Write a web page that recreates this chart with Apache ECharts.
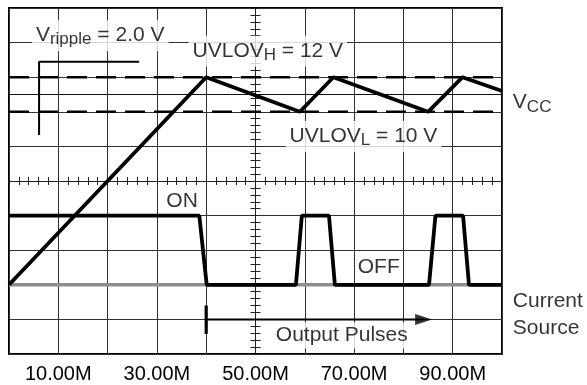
<!DOCTYPE html>
<html>
<head>
<meta charset="utf-8">
<script src="https://cdn.jsdelivr.net/npm/echarts@6/dist/echarts.min.js"></script>
<style>html,body{margin:0;padding:0;background:#fff;}#c{width:587px;height:385px;}</style>
</head>
<body>
<div id="c"></div>
<script>
// ---- data (time in M units, volts) ----
const xTickValues = [10, 30, 50, 70, 90];
const xTickLabels = ['10.00M', '30.00M', '50.00M', '70.00M', '90.00M'];

const vccTime  = [0, 40, 59, 65.8, 85, 92, 100];
const vccVolts = [0, 12, 10, 12, 10, 12, 11.2];

const pulseTime  = [0, 38.6, 40.1, 58.2, 59.4, 64.9, 66.1, 85.2, 86.5, 92.1, 93.3, 100];
const pulseVolts = [4, 4, 0, 0, 4, 4, 0, 0, 4, 4, 0, 0];

const currentSourceTime  = [0, 100];
const currentSourceVolts = [0, 0];

const uvloHighVolts = 12;
const uvloLowVolts = 10;
const vccMidVolts = 11;
const levelTime = [0, 100];

const rippleBracketTime  = [26.4, 6.1, 6.1];
const rippleBracketVolts = [12.9, 12.9, 8.66];

const arrowTime  = [40, 84.1];
const arrowVolts = [-2, -2];
const startMarkTime  = [40, 40];
const startMarkVolts = [-1.2, -2.85];

const annotationTexts = [
  '{m|V}{s|ripple}{m| = 2.0 V}',
  '{m|UVLOV}{s|H}{m| = 12 V}',
  '{m|UVLOV}{s|L}{m| = 10 V}',
  'ON',
  'OFF',
  'Output Pulses'
];
const annotationTime  = [18.5, 52.5, 71.9, 35.1, 75.0, 67.5];
const annotationVolts = [14.4, 13.5, 8.57, 4.84, 1.0, -2.93];
const annotationBoxed = [true, true, true, false, false, true];

const sideTexts = ['{m|V}{s|CC}', 'Current\nSource'];
const sideTime  = [102.2, 102.2];
const sideVolts = [10.54, -1.72];

// ---- chart ----
const FONT = "'Liberation Sans', Arial, Helvetica, sans-serif";
const zip = (xs, ys) => xs.map((x, i) => [x, ys[i]]);
const rich = {
  m: { fontSize: 21, fontFamily: FONT, color: '#000' },
  s: { fontSize: 17, fontFamily: FONT, color: '#000', padding: [9, 0, 0, 0] }
};

const chart = echarts.init(document.getElementById('c'), null, { renderer: 'canvas' });

function lineSeries(data, color, width, type, z) {
  return {
    type: 'line', xAxisIndex: 0, yAxisIndex: 0, data: data,
    symbol: 'none', showSymbol: false, silent: true, z: z || 2,
    lineStyle: { color: color, width: width, type: type || 'solid', cap: 'butt' }
  };
}

const tickAxisCommon = {
  type: 'value', gridIndex: 1, min: -5, max: 5, interval: 0.2,
  axisLabel: { show: false }, splitLine: { show: false }
};

const option = {
  animation: false,
  backgroundColor: '#fff',
  grid: [
    { left: 9, top: 8, width: 493, height: 346, show: true, borderColor: '#000', borderWidth: 2,
      backgroundColor: 'transparent', containLabel: false, outerBoundsMode: 'none' },
    { left: 9, top: 8, width: 493, height: 346, containLabel: false, outerBoundsMode: 'none' }
  ],
  xAxis: [
    { type: 'value', gridIndex: 0, min: 0, max: 100, interval: 10, position: 'bottom',
      axisLine: { show: false }, axisTick: { show: false },
      splitLine: { show: true, lineStyle: { color: '#333', width: 1 } },
      axisLabel: { show: true, margin: 10, color: '#000', fontSize: 20, fontFamily: FONT,
        showMinLabel: true, showMaxLabel: true,
        formatter: v => { const i = xTickValues.indexOf(Math.round(v)); return i >= 0 ? xTickLabels[i] : ''; } } },
    Object.assign({}, tickAxisCommon, { position: 'bottom',
      axisLine: { show: true, onZero: true, onZeroAxisIndex: 1, lineStyle: { color: '#222', width: 1 } },
      axisTick: { show: true, inside: false, length: 4, lineStyle: { color: '#222', width: 1 } } }),
    Object.assign({}, tickAxisCommon, { position: 'bottom',
      axisLine: { show: true, onZero: true, onZeroAxisIndex: 1, lineStyle: { color: '#222', width: 1 } },
      axisTick: { show: true, inside: true, length: 4, lineStyle: { color: '#222', width: 1 } } })
  ],
  yAxis: [
    { type: 'value', gridIndex: 0, min: -4, max: 16, interval: 2,
      axisLine: { show: false }, axisTick: { show: false }, axisLabel: { show: false },
      splitLine: { show: true, lineStyle: { color: '#333', width: 1 } } },
    Object.assign({}, tickAxisCommon, { position: 'left',
      axisLine: { show: true, onZero: true, onZeroAxisIndex: 1, lineStyle: { color: '#222', width: 1 } },
      axisTick: { show: true, inside: false, length: 5, lineStyle: { color: '#222', width: 1 } } }),
    Object.assign({}, tickAxisCommon, { position: 'left',
      axisLine: { show: true, onZero: true, onZeroAxisIndex: 1, lineStyle: { color: '#222', width: 1 } },
      axisTick: { show: true, inside: true, length: 5, lineStyle: { color: '#222', width: 1 } } })
  ],
  series: [
    lineSeries(zip(currentSourceTime, currentSourceVolts), '#8e8e8e', 3.5, 'solid', 2),
    lineSeries(levelTime.map(t => [t, uvloHighVolts]), '#000', 2.5, [20, 9], 2),
    lineSeries(levelTime.map(t => [t, uvloLowVolts]), '#000', 2.5, [20, 9], 2),
    lineSeries(levelTime.map(t => [t, vccMidVolts]), '#111', 1, 'solid', 2),
    lineSeries(zip(vccTime, vccVolts), '#000', 3.8, 'solid', 3),
    lineSeries(zip(pulseTime, pulseVolts), '#000', 3.8, 'solid', 3),
    lineSeries(zip(rippleBracketTime, rippleBracketVolts), '#000', 2, 'solid', 3),
    lineSeries(zip(arrowTime, arrowVolts), '#000', 2, 'solid', 3),
    lineSeries(zip(startMarkTime, startMarkVolts), '#000', 3.2, 'solid', 3),
    { type: 'scatter', xAxisIndex: 0, yAxisIndex: 0, silent: true, z: 3,
      data: [[arrowTime[1], arrowVolts[1]]], symbol: 'triangle', symbolSize: [11, 17], symbolRotate: -90,
      itemStyle: { color: '#000' } },
    { type: 'scatter', xAxisIndex: 0, yAxisIndex: 0, silent: true, z: 5, clip: false,
      symbolSize: 0,
      data: annotationTexts.map((t, i) => ({
        value: [annotationTime[i], annotationVolts[i]],
        label: { show: true, position: 'inside', formatter: t, rich: rich,
          fontSize: 21, fontFamily: FONT, color: '#000',
          backgroundColor: annotationBoxed[i] ? '#fff' : 'transparent',
          padding: annotationBoxed[i] ? [2, 4, 3, 4] : 0 }
      })) },
    { type: 'scatter', xAxisIndex: 0, yAxisIndex: 0, silent: true, z: 5, clip: false,
      symbolSize: 0,
      data: sideTexts.map((t, i) => ({
        value: [sideTime[i], sideVolts[i]],
        label: { show: true, position: 'inside', align: 'left', formatter: t, rich: rich,
          fontSize: 21, fontFamily: FONT, color: '#000', lineHeight: 27 }
      })) }
  ]
};
chart.setOption(option);
</script>
</body>
</html>
